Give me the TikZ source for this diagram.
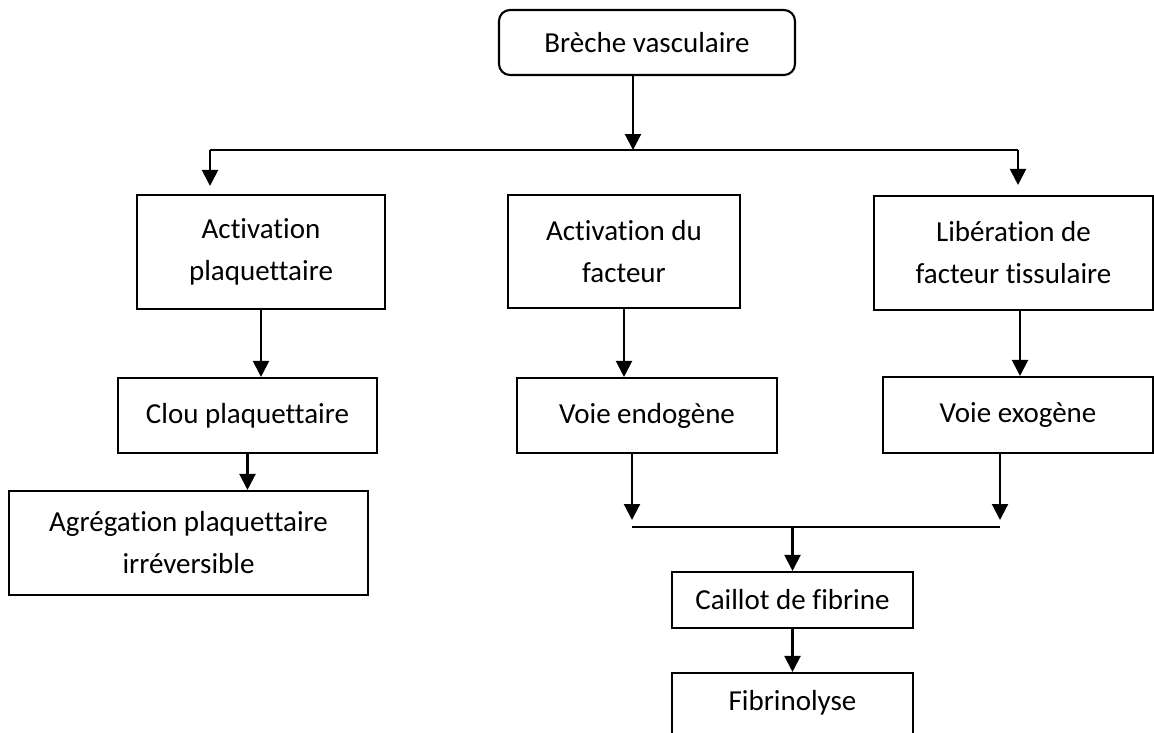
\documentclass[tikz,border=0pt]{standalone}
\usepackage{fontspec}
\setmainfont{Carlito}[RawFeature={-liga;-clig;-calt;-dlig}]
\usetikzlibrary{arrows.meta,calc}
\begin{document}
\begin{tikzpicture}[x=1pt,y=-1pt,
  font=\fontsize{29}{42}\selectfont,
  line width=2.1pt,
  box/.style={draw, rectangle, align=center, inner sep=0pt},
  arr/.style={-{Triangle[length=16pt,width=16pt]}}]
\clip (0,0) rectangle (1154,732);
\useasboundingbox (0,0) rectangle (1154,732);

% boxes
\node[box, rounded corners=11pt, minimum width=296pt, minimum height=65pt] (breche) at (647,42.5) {Brèche vasculaire};
\node[box, minimum width=248pt, minimum height=114pt] (actp) at (261,252) {Activation\\plaquettaire};
\node[box, minimum width=232pt, minimum height=113pt] (actf) at (624,251.5) {Activation du\\facteur};
\node[box, minimum width=279pt, minimum height=114pt] (lib) at (1013.5,253) {Libération de\\facteur tissulaire};
\node[box, minimum width=259pt, minimum height=75pt] (clou) at (247.5,415.5) {Clou plaquettaire};
\node[box, minimum width=359pt, minimum height=104pt] (agr) at (188.5,543) {Agrégation plaquettaire\\irréversible};
\node[box, minimum width=260pt, minimum height=75pt] (endo) at (647,415.5) {Voie endogène};
\node[box, minimum width=270pt, minimum height=76pt] (exo) at (1018,415) {Voie exogène};
\node[box, minimum width=241pt, minimum height=56pt] (cail) at (792.5,600) {Caillot de fibrine};
\node[box, minimum width=241pt, minimum height=77pt] (fib) at (792.5,711.5) {};
\node (fibtext) at (792.5,703) {Fibrinolyse};

% junction points
\coordinate (top) at (633,150);
\coordinate (tl) at (210,150);
\coordinate (tr) at (1018,150);
\coordinate (jl) at (632,527);
\coordinate (jr) at (1000,527);
\coordinate (exoarr) at (1020,0);

% connectors
\draw[arr] (breche.south -| top) -- (top);
\draw (tl) -- (tr);
\draw[arr, shorten >=8pt] (tl) -- (tl |- actp.north);
\draw[arr, shorten >=10pt] (tr) -- (tr |- lib.north);
\draw[arr] (actp.south) -- (actp.south |- clou.north);
\draw[arr] (clou.south) -- (clou.south |- agr.north);
\draw[arr] (actf.south) -- (actf.south |- endo.north);
\draw[arr] (lib.south -| exoarr) -- (exo.north -| exoarr);
\draw[arr, shorten >=7pt] (endo.south -| jl) -- (jl);
\draw[arr, shorten >=7pt] (exo.south -| jr) -- (jr);
\draw (jl) -- (jr);
\draw[arr] (cail.north |- jl) -- (cail.north);
\draw[arr] (cail.south) -- (fib.north);
\end{tikzpicture}
\end{document}
